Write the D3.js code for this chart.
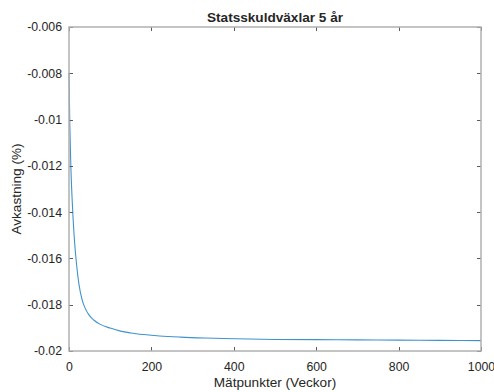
<!DOCTYPE html>
<html>
<head>
<meta charset="utf-8">
<script src="https://cdn.jsdelivr.net/npm/d3@7"></script>
<style>
  html, body { margin: 0; padding: 0; background: #fff; }
  svg { display: block; }
  text { font-family: "Liberation Sans", Arial, sans-serif; fill: #262626; }
</style>
</head>
<body>
<svg id="chart" width="494" height="392"></svg>
<script>
// Measurement points (weeks) and yield (%)
const weeks = [0, 1, 2, 3, 4, 5, 6, 8, 10, 14, 18, 24, 32, 40, 48, 60, 77, 100, 125, 150, 182, 220, 270, 330, 400, 500, 600, 700, 800, 900, 1000];
const yieldValues = [-0.0080, -0.0092, -0.0102, -0.0110, -0.0117, -0.0123, -0.0128, -0.0136, -0.0143, -0.0154, -0.0162, -0.0171, -0.0178, -0.01818, -0.01843, -0.01866, -0.01886, -0.01901, -0.01914, -0.01922, -0.01929, -0.01935, -0.01940, -0.01944, -0.01947, -0.01950, -0.01951, -0.01952, -0.01953, -0.01954, -0.01955];
const xTicks = [0, 200, 400, 600, 800, 1000];
const yTicks = [-0.006, -0.008, -0.01, -0.012, -0.014, -0.016, -0.018, -0.02];
const yTickLabels = ["-0.006", "-0.008", "-0.01", "-0.012", "-0.014", "-0.016", "-0.018", "-0.02"];

const svg = d3.select("#chart");
const plotLeft = 69, plotRight = 481, plotTop = 27, plotBottom = 351;

const x = d3.scaleLinear().domain([0, 1000]).range([plotLeft, plotRight]);
const y = d3.scaleLinear().domain([-0.02, -0.006]).range([plotBottom, plotTop]);

const tickLen = 4;
const boxColor = "#b0b0b0";
const tickColor = "#5a5a5a";

// Series line
const line = d3.line()
  .x((d, i) => x(weeks[i]))
  .y(d => y(d))
  .curve(d3.curveMonotoneX);

svg.append("path")
  .datum(yieldValues)
  .attr("d", line)
  .attr("fill", "none")
  .attr("stroke", "#3f93cc")
  .attr("stroke-width", 1.1);

// Tick marks on all four sides, pointing inward
const ticks = svg.append("g").attr("stroke", tickColor).attr("stroke-width", 1);
xTicks.forEach(t => {
  const px = Math.round(x(t)) + 0.5;
  ticks.append("line").attr("x1", px).attr("x2", px).attr("y1", plotBottom).attr("y2", plotBottom - tickLen);
  ticks.append("line").attr("x1", px).attr("x2", px).attr("y1", plotTop).attr("y2", plotTop + tickLen);
});
yTicks.forEach(t => {
  const py = Math.round(y(t)) + 0.5;
  ticks.append("line").attr("x1", plotLeft).attr("x2", plotLeft + tickLen).attr("y1", py).attr("y2", py);
  ticks.append("line").attr("x1", plotRight).attr("x2", plotRight - tickLen).attr("y1", py).attr("y2", py);
});

// Axes box
svg.append("rect")
  .attr("x", plotLeft).attr("y", plotTop)
  .attr("width", plotRight - plotLeft).attr("height", plotBottom - plotTop)
  .attr("fill", "none")
  .attr("stroke", boxColor)
  .attr("stroke-width", 1.5);

// Tick labels
const xAxis = d3.axisBottom(x).tickValues(xTicks).tickSize(0).tickPadding(11).tickFormat(d3.format("d"));
const gx = svg.append("g").attr("transform", `translate(0,${plotBottom})`).call(xAxis);
gx.select(".domain").remove();
gx.selectAll("text").attr("font-size", 12.3).attr("fill", "#262626")
  .attr("font-family", "Liberation Sans, Arial, sans-serif");

const yAxis = d3.axisLeft(y).tickValues(yTicks).tickSize(0).tickPadding(7)
  .tickFormat((d, i) => yTickLabels[i]);
const gy = svg.append("g").attr("transform", `translate(${plotLeft},0)`).call(yAxis);
gy.select(".domain").remove();
gy.selectAll("text").attr("font-size", 12.3).attr("fill", "#262626")
  .attr("font-family", "Liberation Sans, Arial, sans-serif");

// Title and axis labels
svg.append("text")
  .attr("x", (plotLeft + plotRight) / 2).attr("y", 22)
  .attr("text-anchor", "middle")
  .attr("font-size", 13.6).attr("font-weight", "bold")
  .text("Statsskuldväxlar 5 år");

svg.append("text")
  .attr("x", (plotLeft + plotRight) / 2).attr("y", 387)
  .attr("text-anchor", "middle")
  .attr("font-size", 13.6)
  .text("Mätpunkter (Veckor)");

svg.append("text")
  .attr("transform", `translate(21,${(plotTop + plotBottom) / 2}) rotate(-90)`)
  .attr("text-anchor", "middle")
  .attr("font-size", 13.6)
  .text("Avkastning (%)");
</script>
</body>
</html>
